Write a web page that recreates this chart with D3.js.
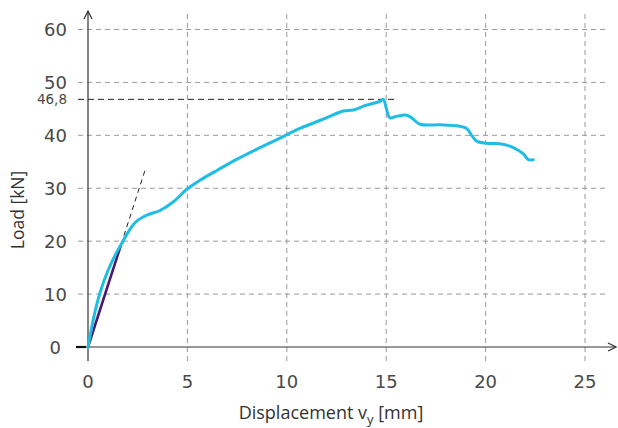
<!DOCTYPE html>
<html>
<head>
<meta charset="utf-8">
<script src="https://cdn.jsdelivr.net/npm/d3@7"></script>
<style>
  body { margin: 0; background: #fff; }
  svg text { fill: #3a3a3a; }
</style>
</head>
<body>
<div id="chart"></div>
<script>
// measured load-displacement curve
var dispValues = [0, 0.3, 0.6, 1.0, 1.4, 1.76, 2.1, 2.45, 2.95, 3.62, 4.28, 5.0, 5.63, 6.5, 7.5, 8.5, 9.5, 10.66, 11.8, 12.84, 13.35, 14.0, 14.69, 14.86, 14.99, 15.19, 15.53, 16.03, 16.28, 16.7, 17.71, 18.54, 19.04, 19.3, 19.55, 20.05, 20.72, 21.39, 21.9, 22.15, 22.4];
var loadValues = [0, 5.8, 10.2, 14.4, 17.6, 20, 22.2, 23.8, 24.9, 25.8, 27.4, 29.9, 31.5, 33.4, 35.5, 37.4, 39.2, 41.3, 43.0, 44.6, 44.8, 45.7, 46.4, 46.8, 45.3, 43.3, 43.6, 43.8, 43.3, 42.1, 42.0, 41.8, 41.3, 40.0, 38.9, 38.5, 38.4, 37.7, 36.5, 35.4, 35.4];
// initial stiffness line (purple) and its extension (dashed)
var stiffDisp = [0, 1.66];
var stiffLoad = [0, 19.3];
var tangentDisp = [0, 2.92];
var tangentLoad = [0, 34.0];
var peakLoad = 46.8;
var peakLabel = "46,8";
var xTicks = [0, 5, 10, 15, 20, 25];
var yTicks = [0, 10, 20, 30, 40, 50, 60];

var width = 618, height = 428;
var svg = d3.select("#chart").append("svg")
    .attr("width", width)
    .attr("height", height);

var x = d3.scaleLinear().domain([0, 25]).range([88, 585]);
var y = d3.scaleLinear().domain([0, 60]).range([347, 29.5]);

var grid = svg.append("g");
// horizontal grid
grid.selectAll("line.h").data(yTicks.slice(1)).enter().append("line")
    .attr("x1", 78).attr("x2", 606)
    .attr("y1", function (d) { return y(d); })
    .attr("y2", function (d) { return y(d); })
    .attr("stroke", "#9a9a9a").attr("stroke-width", 1)
    .attr("stroke-dasharray", "5,4");
// vertical grid
grid.selectAll("line.v").data(xTicks.slice(1)).enter().append("line")
    .attr("x1", function (d) { return x(d); })
    .attr("x2", function (d) { return x(d); })
    .attr("y1", 14).attr("y2", 361)
    .attr("stroke", "#9a9a9a").attr("stroke-width", 1)
    .attr("stroke-dasharray", "5,4");

// peak load marker line
svg.append("line")
    .attr("x1", 78).attr("x2", 395)
    .attr("y1", y(peakLoad)).attr("y2", y(peakLoad))
    .attr("stroke", "#222").attr("stroke-width", 1)
    .attr("stroke-dasharray", "6,4");

// axes with arrows
svg.append("defs").append("marker")
    .attr("id", "arrow")
    .attr("viewBox", "0 0 10 10")
    .attr("refX", 9).attr("refY", 5)
    .attr("markerWidth", 10).attr("markerHeight", 10)
    .attr("markerUnits", "userSpaceOnUse")
    .attr("orient", "auto")
    .append("path")
    .attr("d", "M1,1 L9,5 L1,9")
    .attr("fill", "none").attr("stroke", "#333").attr("stroke-width", 1.2);

svg.append("line")
    .attr("x1", 76).attr("x2", 616)
    .attr("y1", y(0)).attr("y2", y(0))
    .attr("stroke", "#333").attr("stroke-width", 1.2)
    .attr("marker-end", "url(#arrow)");
svg.append("line")
    .attr("x1", 76).attr("x2", 86)
    .attr("y1", y(0)).attr("y2", y(0))
    .attr("stroke", "#111").attr("stroke-width", 2.2);
svg.append("line")
    .attr("x1", x(0)).attr("x2", x(0))
    .attr("y1", 361).attr("y2", 11)
    .attr("stroke", "#333").attr("stroke-width", 1.2)
    .attr("marker-end", "url(#arrow)");

// tick labels
svg.selectAll("text.xt").data(xTicks).enter().append("text")
    .attr("x", function (d) { return x(d); })
    .attr("y", 388)
    .attr("text-anchor", "middle")
    .style("font-family", "'DejaVu Sans'")
    .style("font-size", "18px")
    .style("fill", "#484848")
    .text(function (d) { return d; });
svg.selectAll("text.yt").data(yTicks).enter().append("text")
    .attr("x", function (d) { return d === 0 ? 61 : 67; })
    .attr("y", function (d) { return y(d) + 6.5; })
    .attr("text-anchor", "end")
    .style("font-family", "'DejaVu Sans'")
    .style("font-size", "18px")
    .style("fill", "#484848")
    .text(function (d) { return d; });
svg.append("text")
    .attr("x", 67)
    .attr("y", y(peakLoad) + 5)
    .attr("text-anchor", "end")
    .style("font-family", "'DejaVu Sans'")
    .style("font-size", "13.5px")
    .style("fill", "#484848")
    .text(peakLabel);

// axis titles
var xTitle = svg.append("text")
    .attr("x", 331).attr("y", 419)
    .attr("text-anchor", "middle")
    .style("font-family", "'Open Sans'")
    .style("font-size", "18px")
    .style("fill", "#333");
xTitle.append("tspan").text("Displacement v");
xTitle.append("tspan").attr("dy", 5).style("font-size", "13px").text("y");
xTitle.append("tspan").attr("dy", -5).text(" [mm]");

svg.append("text")
    .attr("transform", "translate(24,210) rotate(-90)")
    .attr("text-anchor", "middle")
    .style("font-family", "'Open Sans'")
    .style("font-size", "17.5px")
    .style("fill", "#333")
    .text("Load [kN]");

// tangent extension
svg.append("line")
    .attr("x1", x(tangentDisp[0])).attr("y1", y(tangentLoad[0]))
    .attr("x2", x(tangentDisp[1])).attr("y2", y(tangentLoad[1]))
    .attr("stroke", "#222").attr("stroke-width", 1)
    .attr("stroke-dasharray", "5,4");

// stiffness line
svg.append("line")
    .attr("x1", x(stiffDisp[0])).attr("y1", y(stiffLoad[0]))
    .attr("x2", x(stiffDisp[1])).attr("y2", y(stiffLoad[1]))
    .attr("stroke", "#4a1a6e").attr("stroke-width", 2.6);

// load curve
var data = dispValues.map(function (d, i) { return {d: d, l: loadValues[i]}; });
svg.append("path")
    .datum(data)
    .attr("fill", "none")
    .attr("stroke", "#1fbde6")
    .attr("stroke-width", 3)
    .attr("stroke-linejoin", "round")
    .attr("stroke-linecap", "round")
    .attr("d", d3.line()
        .x(function (d) { return x(d.d); })
        .y(function (d) { return y(d.l); })
        .curve(d3.curveCatmullRom.alpha(0.5)));
</script>
</body>
</html>
